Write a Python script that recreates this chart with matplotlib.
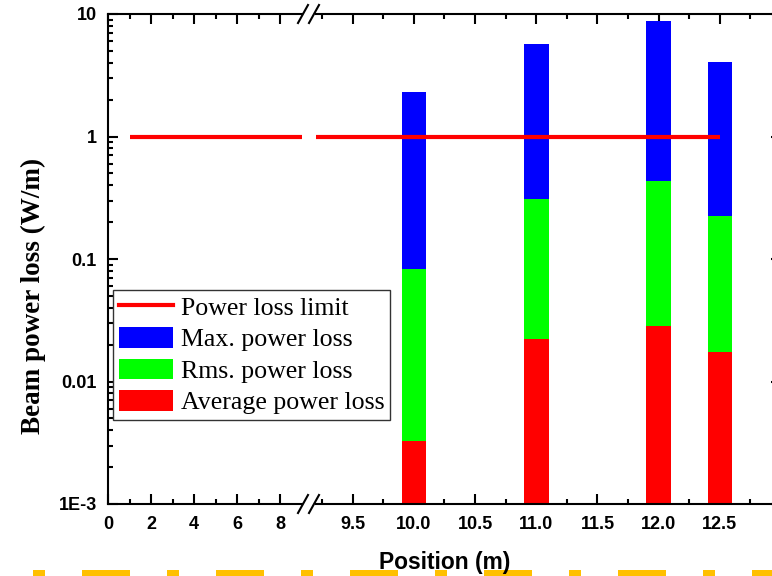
import matplotlib
matplotlib.use('Agg')
import matplotlib.pyplot as plt
from matplotlib.lines import Line2D
from matplotlib.patches import Patch
from matplotlib.ticker import LogLocator, NullFormatter

plt.rcParams['lines.scale_dashes'] = False

# Loss measurements along the beam line
positions = [10.0, 11.0, 12.0, 12.5]
max_loss = [2.31, 5.69, 8.77, 4.06]
rms_loss = [0.083, 0.309, 0.434, 0.224]
avg_loss = [0.00327, 0.0222, 0.0284, 0.0174]

# Power loss limit line
limit_x = [1.0, 12.5]
limit_y = [1.0, 1.0]

ytick_vals = [1e-3, 1e-2, 1e-1, 1, 10]
ytick_labels = ['1E-3', '0.01', '0.1', '1', '10']
xtick_left = [0, 2, 4, 6, 8]
xtick_left_minor = [1, 3, 5, 7]
xtick_right = [9.5, 10.0, 10.5, 11.0, 11.5, 12.0, 12.5]
xtick_right_minor = [9.25, 9.75, 10.25, 10.75, 11.25, 11.75, 12.25, 12.75]

legend_labels = ['Power loss limit', 'Max. power loss', 'Rms. power loss', 'Average power loss']

W, H = 772, 576


def fx(px):
    return px / W


def fy(py):
    return 1 - py / H


fig = plt.figure(figsize=(W / 100, H / 100), dpi=100)
ax_h = (504 - 14) / H
ax1 = fig.add_axes([fx(108), fy(504), (301.5 - 108) / W, ax_h])
ax2 = fig.add_axes([fx(316), fy(504), (781 - 316) / W, ax_h])

tick_font = dict(family='Liberation Sans', weight='bold', size=13)

for ax in (ax1, ax2):
    ax.set_yscale('log')
    for sp in ax.spines.values():
        sp.set_linewidth(1.5)
    ax.tick_params(which='both', direction='in', width=1.5, top=True, bottom=True)
    ax.tick_params(which='major', length=7)
    ax.tick_params(which='minor', length=3.5)
    ax.plot(limit_x, limit_y, color='#FF0000', lw=3, solid_capstyle='butt', zorder=3)

ax1.spines['right'].set_visible(False)
ax2.spines['left'].set_visible(False)
ax1.tick_params(which='both', left=True, right=False)
ax2.tick_params(which='both', left=False, right=True, labelleft=False)

ax1.set_xlim(0, 9)
ax2.set_xlim(9.2, 13)

ax1.set_yticks(ytick_vals, ytick_labels)
ax2.set_yticks(ytick_vals, [''] * len(ytick_vals))
for ax in (ax1, ax2):
    ax.yaxis.set_minor_locator(LogLocator(base=10, subs=range(2, 10)))
    ax.yaxis.set_minor_formatter(NullFormatter())
    ax.set_ylim(1e-3, 10)

ax1.set_xticks(xtick_left, [str(v) for v in xtick_left])
ax1.set_xticks(xtick_left_minor, minor=True)
ax2.set_xticks(xtick_right, ['%.1f' % v for v in xtick_right])
ax2.set_xticks(xtick_right_minor, minor=True)

ax1.tick_params(axis='y', pad=8)
ax1.tick_params(axis='x', pad=8.5)
ax2.tick_params(axis='x', pad=8.5)
for lab in ax1.get_xticklabels() + ax1.get_yticklabels() + ax2.get_xticklabels():
    lab.set_fontproperties(tick_font)

# overlaid bars: max behind, rms, then average in front
w = 0.2
ax2.bar(positions, max_loss, width=w, color='#0000FF', zorder=2)
ax2.bar(positions, rms_loss, width=w, color='#00FF00', zorder=2)
ax2.bar(positions, avg_loss, width=w, color='#FF0000', zorder=2)

# axis break marks
for x0 in (298, 309):
    for ya in (14, 504):
        fig.add_artist(Line2D([fx(x0), fx(x0 + 10)], [fy(ya + 9), fy(ya - 9)],
                              transform=fig.transFigure, color='black', lw=1.5))

fig.text(fx(33), fy(296), 'Beam power loss (W/m)', rotation=90, ha='center', va='center',
         family='Liberation Serif', weight='bold', size=19.5)
fig.text(fx(444.5), fy(569), 'Position (m)', ha='center', va='baseline',
         family='Liberation Sans', weight='bold', size=16.4)

handles = [Line2D([], [], color='#FF0000', lw=3),
           Patch(facecolor='#0000FF'),
           Patch(facecolor='#00FF00'),
           Patch(facecolor='#FF0000')]
leg = fig.legend(handles, legend_labels, loc='lower left', bbox_to_anchor=(fx(113), fy(420)),
                 prop=dict(family='Liberation Serif', size=18.6), fancybox=False, framealpha=1,
                 edgecolor='#333333', borderaxespad=0, handlelength=2.1, handleheight=0.85,
                 handletextpad=0.3, labelspacing=0.28, borderpad=0.22)
leg.get_frame().set_linewidth(1.0)

# dashed strip along the bottom edge
fig.add_artist(Line2D([fx(33), 1.0], [fy(573), fy(573)], transform=fig.transFigure,
                      color='#FFC000', lw=6 * 0.72, dash_capstyle='butt',
                      dashes=(12 * 0.72, 37 * 0.72, 48 * 0.72, 37 * 0.72)))

fig.savefig('out.png', dpi=100)
